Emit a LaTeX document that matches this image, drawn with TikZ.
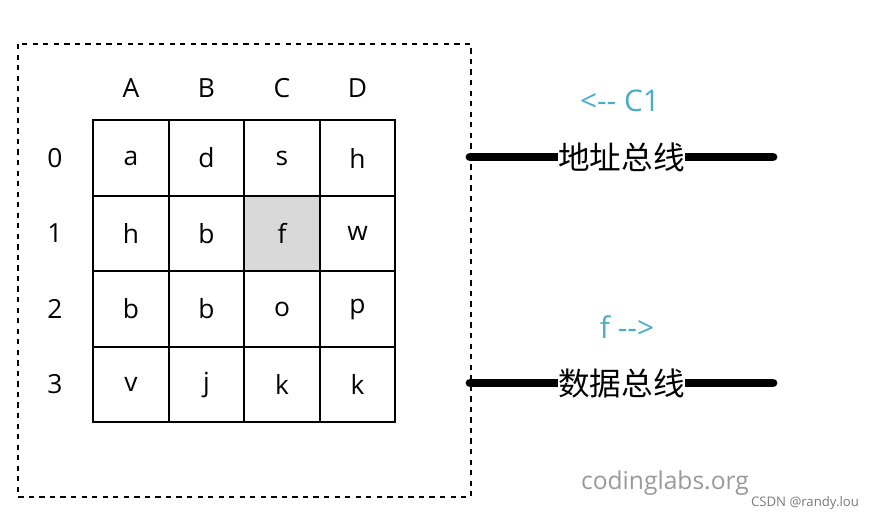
\documentclass[tikz,border=0pt]{standalone}
\usepackage{fontspec}
\setmainfont{Open Sans}
\newfontfamily\cjk{Noto Sans CJK SC}
\usetikzlibrary{positioning}
\definecolor{busTeal}{HTML}{4BACC6}
\definecolor{cellGray}{HTML}{D9D9D9}
\definecolor{markGray}{HTML}{999999}
\tikzset{
    cell/.style={
        draw=black,
        line width=1.4pt,
        minimum size=1.51cm,
        inner sep=0pt,
        font=\fontsize{15}{18}\selectfont
    },
    heading/.style={
        font=\fontsize{15}{18}\selectfont
    },
    bus/.style={
        line width=5pt,
        line cap=round
    },
    buslabel/.style={
        fill=white,
        inner sep=0pt,
        font=\cjk\fontsize{18}{21}\selectfont
    },
    hint/.style={
        text=busTeal,
        font=\fontsize{17}{20}\selectfont
    }
}

\begin{document}
\begin{tikzpicture}[x=0.02cm,y=-0.02cm]
    \useasboundingbox (0,0) rectangle (877,521);
    % Memory box
    \draw[dashed, line width=1.2pt] (18,44) rectangle (471,497);

    % Cells
    \foreach \row/\letters in {0/{a,d,s,h},1/{h,b,f,w},2/{b,b,o,p},3/{v,j,k,k}} {
        \foreach \ch [count=\col from 0] in \letters {
            \node[cell] (c\row\col) at ({131+75.5*\col},{158+75.5*\row}) {\ch};
        }
    }
    \fill[cellGray] (c12.south west) rectangle (c12.north east);
    \node[cell] at (c12) {f};

    % Column and row headings
    \foreach \name [count=\col from 0] in {A,B,C,D}
        \node[heading] (col\name) at ({131+75.5*\col},88) {\name};
    \foreach \row in {0,...,3}
        \node[heading] (row\row) at (55,{158+75.5*\row}) {\row};

    % Buses
    \coordinate (addrL) at (470,157);
    \coordinate (addrR) at (773,157);
    \coordinate (dataL) at (470,383);
    \coordinate (dataR) at (773,383);
    \draw[bus] (addrL) -- node[buslabel] (addr) {地址总线} (addrR);
    \draw[bus] (dataL) -- node[buslabel] (data) {数据总线} (dataR);
    \node[hint] (req) at (620,101) {<-{}- C1};
    \node[hint] (resp) at (627,327) {f -{}->};

    % Watermarks
    \node[text=markGray, font=\fontsize{14}{16}\selectfont] (site) at (665,483) {codinglabs.org};
    \node[text=markGray!80!black, font=\fontsize{7.5}{9}\selectfont] (csdn) at (805,503) {CSDN @randy.lou};
\end{tikzpicture}
\end{document}
